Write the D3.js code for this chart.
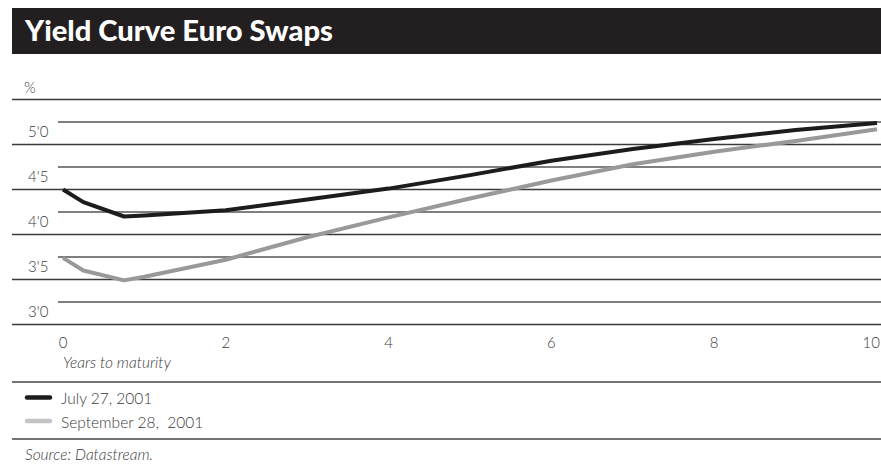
<!DOCTYPE html>
<html>
<head>
<meta charset="utf-8">
<script src="https://cdn.jsdelivr.net/npm/d3@7"></script>
<style>
  html, body { margin: 0; padding: 0; background: #fff; }
  svg { display: block; }
</style>
</head>
<body>
<svg id="chart" width="881" height="465"></svg>
<script>
// Maturities in years and swap yields (%) for the two curve dates
const maturities = [0, 0.25, 0.75, 1, 2, 3, 4, 5, 6, 7, 8, 9, 10];
const july27 = [4.25, 4.11, 3.95, 3.96, 4.02, 4.14, 4.26, 4.41, 4.57, 4.70, 4.81, 4.91, 4.99];
const sept28 = [3.49, 3.35, 3.24, 3.28, 3.47, 3.72, 3.94, 4.15, 4.35, 4.53, 4.67, 4.79, 4.92];

const seriesNames = ["July 27, 2001", "September 28,  2001"];
const xTicks = [0, 2, 4, 6, 8, 10];
const yTicks = [3.0, 3.5, 4.0, 4.5, 5.0];
const yMinorLines = [2.75, 3.25, 3.75, 4.25, 4.75, 5.25];

const W = 881, H = 465;
const svg = d3.select("#chart");
const font = "Lato, 'Open Sans', sans-serif";
const textColor = "#3a3a3a";

const x = d3.scaleLinear().domain([0, 10]).range([63, 877]);
const y = d3.scaleLinear().domain([3, 5]).range([302, 122]);

// Title band
svg.append("rect").attr("x", 12).attr("y", 8).attr("width", W - 12).attr("height", 46).attr("fill", "#231f20");
const title = svg.append("text")
  .attr("x", 25).attr("y", 41)
  .attr("fill", "#fff")
  .attr("font-family", font)
  .attr("font-weight", 900)
  .attr("font-size", 25)
  .text("Yield Curve Euro Swaps");
const tl = title.node().getComputedTextLength();
if (tl > 0) title.attr("font-size", 25 * 308 / tl);

// Unit label
svg.append("text").attr("x", 24).attr("y", 93)
  .attr("font-family", font).attr("font-weight", 300).attr("font-size", 15).attr("fill", textColor).text("%");

// Horizontal rules: full-width lines between the labelled levels
svg.append("g").selectAll("line").data(yMinorLines).join("line")
  .attr("x1", 12).attr("x2", W)
  .attr("y1", d => y(d)).attr("y2", d => y(d))
  .attr("stroke", "#3a3a3a").attr("stroke-width", 1.3);

// Labelled levels: shorter lines with their values underneath
svg.append("g").selectAll("line").data(yTicks).join("line")
  .attr("x1", 58).attr("x2", W)
  .attr("y1", d => y(d)).attr("y2", d => y(d))
  .attr("stroke", "#555").attr("stroke-width", 1.3);

const fmtY = d => d3.format(".1f")(d).replace(".", "'");
svg.append("g").selectAll("text").data(yTicks).join("text")
  .attr("x", 28).attr("y", d => y(d) + 15)
  .attr("font-family", font).attr("font-weight", 300).attr("font-size", 15).attr("fill", textColor)
  .text(fmtY);

// X axis labels (the last one is kept inside the right edge)
svg.append("g").selectAll("text").data(xTicks).join("text")
  .attr("x", (d, i) => i === xTicks.length - 1 ? W - 1 : x(d))
  .attr("y", 348)
  .attr("text-anchor", (d, i) => i === xTicks.length - 1 ? "end" : "middle")
  .attr("font-family", font).attr("font-weight", 300).attr("font-size", 15).attr("fill", textColor)
  .text(d => d);

svg.append("text").attr("x", 63).attr("y", 368)
  .attr("font-family", font).attr("font-weight", 300).attr("font-style", "italic").attr("font-size", 15.5).attr("fill", textColor)
  .text("Years to maturity");

// Yield curves
const line = d3.line().x(d => x(d[0])).y(d => y(d[1]));
const series = [
  { name: seriesNames[0], values: july27, color: "#1e1b1c", legend: "#1e1b1c" },
  { name: seriesNames[1], values: sept28, color: "#999999", legend: "#c4c4c4" }
];
svg.append("g").selectAll("path").data(series.slice().reverse()).join("path")
  .attr("d", s => line(maturities.map((m, i) => [m, s.values[i]])))
  .attr("fill", "none")
  .attr("stroke", s => s.color)
  .attr("stroke-width", 4)
  .attr("stroke-linejoin", "round");

// Legend block
svg.append("line").attr("x1", 12).attr("x2", W).attr("y1", 382).attr("y2", 382)
  .attr("stroke", "#444").attr("stroke-width", 1.3);
const leg = svg.append("g").selectAll("g").data(series).join("g")
  .attr("transform", (d, i) => `translate(0, ${397.5 + i * 23.5})`);
leg.append("line").attr("x1", 27).attr("x2", 50).attr("y1", 0).attr("y2", 0)
  .attr("stroke", d => d.legend).attr("stroke-width", 4.5).attr("stroke-linecap", "round");
leg.append("text").attr("x", 61).attr("y", 6.5)
  .attr("font-family", font).attr("font-weight", 300).attr("font-size", 15.5).attr("fill", textColor)
  .attr("xml:space", "preserve").style("white-space", "pre")
  .text(d => d.name);
svg.append("line").attr("x1", 12).attr("x2", W).attr("y1", 439).attr("y2", 439)
  .attr("stroke", "#444").attr("stroke-width", 1.3);

svg.append("text").attr("x", 25).attr("y", 460)
  .attr("font-family", font).attr("font-weight", 300).attr("font-style", "italic").attr("font-size", 15.5).attr("fill", textColor)
  .text("Source: Datastream.");
</script>
</body>
</html>
